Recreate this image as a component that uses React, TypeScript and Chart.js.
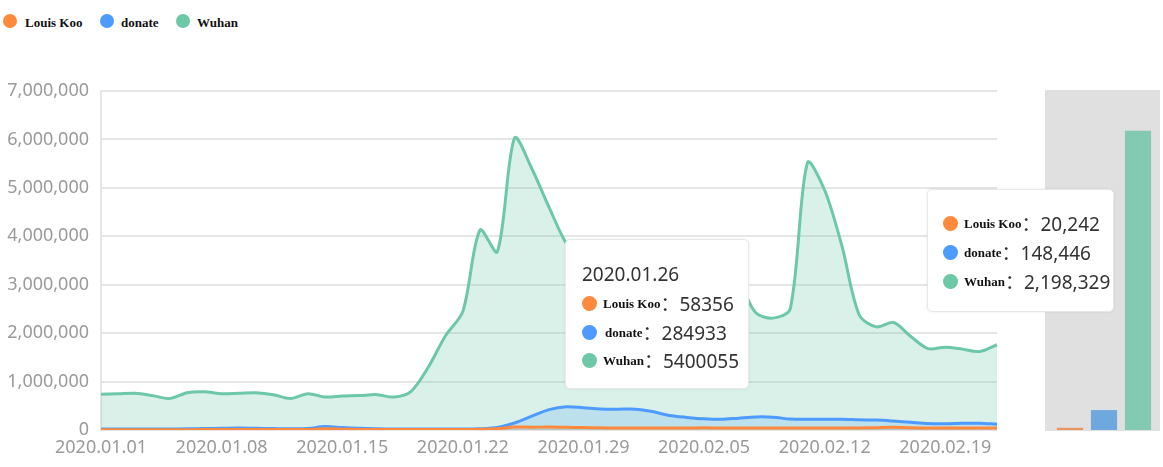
import React, { useEffect, useRef } from "react";
import { Chart, registerables } from "chart.js";

Chart.register(...registerables);

const dates = [
  "2020.01.01","2020.01.02","2020.01.03","2020.01.04","2020.01.05","2020.01.06","2020.01.07",
  "2020.01.08","2020.01.09","2020.01.10","2020.01.11","2020.01.12","2020.01.13","2020.01.14",
  "2020.01.15","2020.01.16","2020.01.17","2020.01.18","2020.01.19","2020.01.20","2020.01.21",
  "2020.01.22","2020.01.23","2020.01.24","2020.01.25","2020.01.26","2020.01.27","2020.01.28",
  "2020.01.29","2020.01.30","2020.01.31","2020.02.01","2020.02.02","2020.02.03","2020.02.04",
  "2020.02.05","2020.02.06","2020.02.07","2020.02.08","2020.02.09","2020.02.10","2020.02.11",
  "2020.02.12","2020.02.13","2020.02.14","2020.02.15","2020.02.16","2020.02.17","2020.02.18",
  "2020.02.19","2020.02.20","2020.02.21","2020.02.22",
];

const seriesNames = ["Louis Koo", "donate", "Wuhan"];

const louisKoo = [
  5000, 5000, 5000, 5000, 5000, 5000, 8000, 10000, 12000, 10000, 8000, 8000, 10000, 25000,
  18000, 10000, 8000, 8000, 8000, 8000, 8000, 10000, 15000, 25000, 60000, 58356, 60000, 55000,
  50000, 45000, 42000, 40000, 40000, 42000, 42000, 45000, 42000, 40000, 40000, 40000, 40000,
  40000, 40000, 40000, 42000, 48000, 55000, 45000, 40000, 40000, 40000, 40000, 40000,
];

const donate = [
  20000, 20000, 20000, 20000, 20000, 25000, 30000, 35000, 40000, 35000, 30000, 25000, 30000,
  70000, 50000, 35000, 25000, 20000, 20000, 20000, 20000, 20000, 25000, 50000, 145000, 284933,
  420000, 480000, 460000, 435000, 430000, 430000, 380000, 300000, 260000, 230000, 220000,
  245000, 270000, 265000, 225000, 220000, 220000, 220000, 210000, 205000, 185000, 160000,
  135000, 130000, 140000, 140000, 120000,
];

const wuhan = [
  740000, 750000, 760000, 710000, 650000, 770000, 790000, 750000, 760000, 770000, 730000,
  650000, 750000, 680000, 700000, 710000, 730000, 680000, 800000, 1300000, 1950000, 2450000,
  4130000, 3680000, 6030000, 5400055, 4600000, 3850000, 3400000, 3000000, 2900000, 2950000,
  3100000, 3300000, 3450000, 3400000, 3250000, 3050000, 2420000, 2310000, 2500000, 5520000,
  4950000, 3800000, 2380000, 2130000, 2220000, 1930000, 1680000, 1710000, 1670000, 1620000,
  1760000,
];

const barValues = [45000, 410000, 6160000];

const yTicks = [0, 1000000, 2000000, 3000000, 4000000, 5000000, 6000000, 7000000];

const tipTitle = "2020.01.26";
const tipValues = ["58356", "284933", "5400055"];
const tip2Values = ["20,242", "148,446", "2,198,329"];

const lineColors = ["#ff8a3d", "#4d9bff", "#6cc8a6"];
const fillColors = ["rgba(255,138,61,0.15)", "rgba(77,155,255,0.2)", "rgba(108,200,166,0.25)"];
const barColors = ["#e8985c", "#6ea8de", "#82cbb2"];

const sansFont = "'Noto Sans', 'Noto Sans CJK SC', sans-serif";
const serifFont = "'Liberation Serif', 'DejaVu Serif', serif";

function Dot({ color, size = 14 }: { color: string; size?: number }) {
  return (
    <span
      style={{
        display: "inline-block",
        width: size,
        height: size,
        borderRadius: "50%",
        background: color,
        flex: "none",
      }}
    />
  );
}

function TipRow({ top, left, color, name, value, labelOffset = 0 }: any) {
  return (
    <div
      style={{
        position: "absolute",
        top: top - 12,
        left,
        height: 24,
        display: "flex",
        alignItems: "center",
        whiteSpace: "nowrap",
      }}
    >
      <Dot color={color} size={15} />
      <span
        style={{
          fontFamily: serifFont,
          fontWeight: "bold",
          fontSize: 13,
          color: "#111",
          marginLeft: 6 + labelOffset,
          marginTop: 2,
        }}
      >
        {name}
      </span>
      <span style={{ fontFamily: sansFont, fontSize: 19, color: "#333" }}>{"："}{value}</span>
    </div>
  );
}

export default function App() {
  const lineRef = useRef<HTMLCanvasElement>(null);
  const barRef = useRef<HTMLCanvasElement>(null);

  useEffect(() => {
    const series = [louisKoo, donate, wuhan];
    const line = new Chart(lineRef.current!, {
      type: "line",
      data: {
        labels: dates,
        datasets: series.map((d, i) => ({
          label: seriesNames[i],
          data: d,
          borderColor: lineColors[i],
          backgroundColor: fillColors[i],
          borderWidth: 3,
          pointRadius: 0,
          tension: 0.3,
          fill: "origin",
        })),
      },
      options: {
        animation: false,
        responsive: false,
        layout: { padding: { top: 91, right: 166, left: 0, bottom: 0 } },
        plugins: { legend: { display: false }, tooltip: { enabled: false } },
        scales: {
          x: {
            offset: false,
            grid: { display: false, drawTicks: false },
            border: { display: false },
            ticks: {
              autoSkip: false,
              maxRotation: 0,
              minRotation: 0,
              padding: 7,
              color: "#9a9a9a",
              font: { family: sansFont, size: 18 },
              callback: (_v: any, i: number) => (i % 7 === 0 ? dates[i] : ""),
            },
            afterFit: (s: any) => {
              s.height = 37;
            },
          },
          y: {
            min: 0,
            max: 7000000,
            afterBuildTicks: (s: any) => {
              s.ticks = yTicks.map((v) => ({ value: v }));
            },
            grid: { color: "#e6e6e6", lineWidth: 2, drawTicks: false },
            border: { display: true, color: "#e6e6e6", width: 2 },
            ticks: {
              padding: 12,
              color: "#9a9a9a",
              font: { family: sansFont, size: 18 },
              callback: (v: any) => Number(v).toLocaleString("en-US"),
            },
            afterFit: (s: any) => {
              s.width = 101;
            },
          },
        },
      },
    });

    const bar = new Chart(barRef.current!, {
      type: "bar",
      data: {
        labels: seriesNames,
        datasets: [
          {
            data: barValues,
            backgroundColor: barColors,
            barPercentage: 0.77,
            categoryPercentage: 1,
          },
        ],
      },
      options: {
        animation: false,
        responsive: false,
        layout: { padding: { left: 8, right: 5, top: 0, bottom: 0 } },
        plugins: { legend: { display: false }, tooltip: { enabled: false } },
        scales: {
          x: { display: false },
          y: { display: false, min: 0, max: 7000000 },
        },
      },
    });

    return () => {
      line.destroy();
      bar.destroy();
    };
  }, []);

  const legendItems = [
    { x: 3, tx: 25 },
    { x: 100, tx: 121 },
    { x: 176, tx: 197 },
  ];

  return (
    <div
      style={{
        position: "fixed",
        left: 0,
        top: 0,
        width: 1163,
        height: 467,
        background: "#fff",
        overflow: "hidden",
      }}
    >
      {legendItems.map((it, i) => (
        <React.Fragment key={i}>
          <div style={{ position: "absolute", left: it.x, top: 14 }}>
            <Dot color={lineColors[i]} size={14} />
          </div>
          <div
            style={{
              position: "absolute",
              left: it.tx,
              top: 14,
              fontFamily: serifFont,
              fontWeight: "bold",
              fontSize: 13,
              lineHeight: "18px",
              color: "#111",
              whiteSpace: "nowrap",
            }}
          >
            {seriesNames[i]}
          </div>
        </React.Fragment>
      ))}

      <canvas
        ref={lineRef}
        width={1163}
        height={467}
        style={{ position: "absolute", left: 0, top: 0, width: 1163, height: 467 }}
      />

      <div
        style={{
          position: "absolute",
          left: 1045,
          top: 90,
          width: 115,
          height: 341,
          background: "#e0e0e0",
        }}
      />
      <canvas
        ref={barRef}
        width={115}
        height={340}
        style={{ position: "absolute", left: 1045, top: 90, width: 115, height: 340 }}
      />

      {/* tooltip 1 */}
      <div
        style={{
          position: "absolute",
          left: 565,
          top: 239,
          width: 184,
          height: 150,
          background: "#fff",
          border: "1px solid #e8e8e8",
          borderRadius: 5,
          boxShadow: "0 0 3px rgba(0,0,0,0.08)",
          boxSizing: "border-box",
        }}
      >
        <div
          style={{
            position: "absolute",
            left: 16,
            top: 21,
            fontFamily: sansFont,
            fontSize: 19,
            color: "#333",
            whiteSpace: "nowrap",
          }}
        >
          {tipTitle}
        </div>
        {seriesNames.map((n, i) => (
          <TipRow
            key={n}
            top={[63, 92, 120][i]}
            left={16}
            color={lineColors[i]}
            name={n}
            value={tipValues[i]}
            labelOffset={i === 1 ? 2 : 0}
          />
        ))}
      </div>

      {/* tooltip 2 */}
      <div
        style={{
          position: "absolute",
          left: 927,
          top: 189,
          width: 187,
          height: 123,
          background: "#fff",
          border: "1px solid #e8e8e8",
          borderRadius: 5,
          boxShadow: "0 0 3px rgba(0,0,0,0.08)",
          boxSizing: "border-box",
        }}
      >
        {seriesNames.map((n, i) => (
          <TipRow
            key={n}
            top={[33, 62, 91][i]}
            left={15}
            color={lineColors[i]}
            name={n}
            value={tip2Values[i]}
          />
        ))}
      </div>
    </div>
  );
}
